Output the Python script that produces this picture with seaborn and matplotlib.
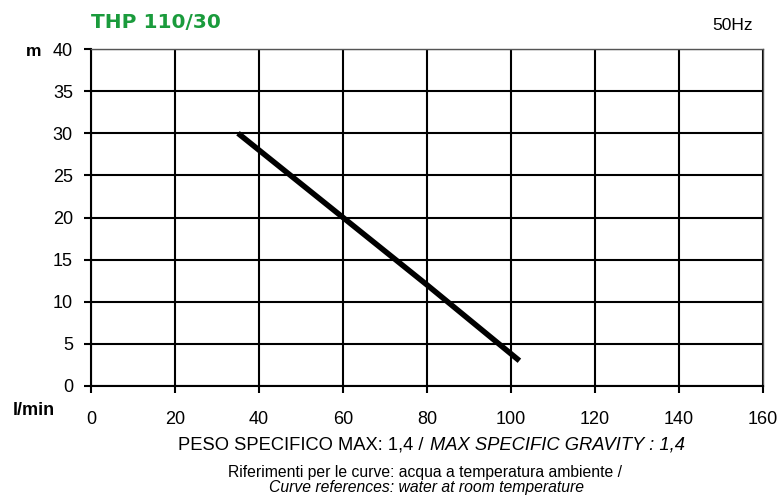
import numpy as np
import pandas as pd
import matplotlib
matplotlib.use('Agg')
import matplotlib.pyplot as plt
import seaborn as sns

# ── DATA ──────────────────────────────────────────────────────────────────────
flow_lmin = [35, 60, 80, 102]
head_m = [30, 20, 12, 3]
x_ticks = [0, 20, 40, 60, 80, 100, 120, 140, 160]
y_ticks = [0, 5, 10, 15, 20, 25, 30, 35, 40]

df = pd.DataFrame({'flow': flow_lmin, 'head': head_m})

# ── STYLE ─────────────────────────────────────────────────────────────────────
sns.set_style('white')
plt.rcParams['font.family'] = ['Liberation Sans', 'DejaVu Sans']
plt.rcParams['text.color'] = 'black'
plt.rcParams['xtick.color'] = 'black'
plt.rcParams['ytick.color'] = 'black'

fig = plt.figure(figsize=(7.82, 4.96), dpi=100)
ax = fig.add_axes([91 / 782, 1 - 386 / 496, (763 - 91) / 782, (386 - 49) / 496])

sns.lineplot(data=df, x='flow', y='head', color='black', linewidth=4,
             solid_capstyle='butt', ax=ax)

ax.set_xlim(0, 160)
ax.set_ylim(0, 40)
ax.set_xticks(x_ticks)
ax.set_yticks(y_ticks)
ax.grid(True, color='black', linewidth=1.5)
ax.set_axisbelow(True)
ax.tick_params(axis='both', bottom=True, left=True, direction='out', length=5,
               width=1.5, color='black', labelcolor='black', labelsize=13)
ax.tick_params(axis='x', pad=13)
ax.tick_params(axis='y', pad=8)
ax.set_xlabel('')
ax.set_ylabel('')

for side in ['left', 'bottom']:
    ax.spines[side].set_color('black')
    ax.spines[side].set_linewidth(1.5)
for side in ['top', 'right']:
    ax.spines[side].set_color('#555555')
    ax.spines[side].set_linewidth(1.0)

# ── TEXTS ─────────────────────────────────────────────────────────────────────
fig.text(91 / 782, 1 - 23 / 496, 'THP 110/30', color='#1a9b3c',
         fontsize=14.5, fontweight='bold', family='DejaVu Sans', va='center')
fig.text(753 / 782, 1 - 26 / 496, '50Hz', fontsize=12.5, ha='right', va='center')
fig.text(41 / 782, 1 - 51 / 496, 'm', fontsize=12.5, fontweight='bold',
         ha='right', va='center')
fig.text(55 / 782, 1 - 415 / 496, 'l/min', fontsize=13, fontweight='bold',
         ha='right', va='baseline')

fig.text(423 / 782, 1 - 450 / 496, 'PESO SPECIFICO MAX: 1,4 /', fontsize=13.2,
         ha='right', va='baseline')
fig.text(430 / 782, 1 - 450 / 496, 'MAX SPECIFIC GRAVITY : 1,4', fontsize=13.2,
         style='italic', ha='left', va='baseline')
fig.text(425 / 782, 1 - 477 / 496,
         'Riferimenti per le curve: acqua a temperatura ambiente /',
         fontsize=11.3, ha='center', va='baseline')
fig.text(426 / 782, 1 - 492 / 496, 'Curve references: water at room temperature',
         fontsize=11.3, style='italic', ha='center', va='baseline')

plt.savefig('out.png', dpi=100)
